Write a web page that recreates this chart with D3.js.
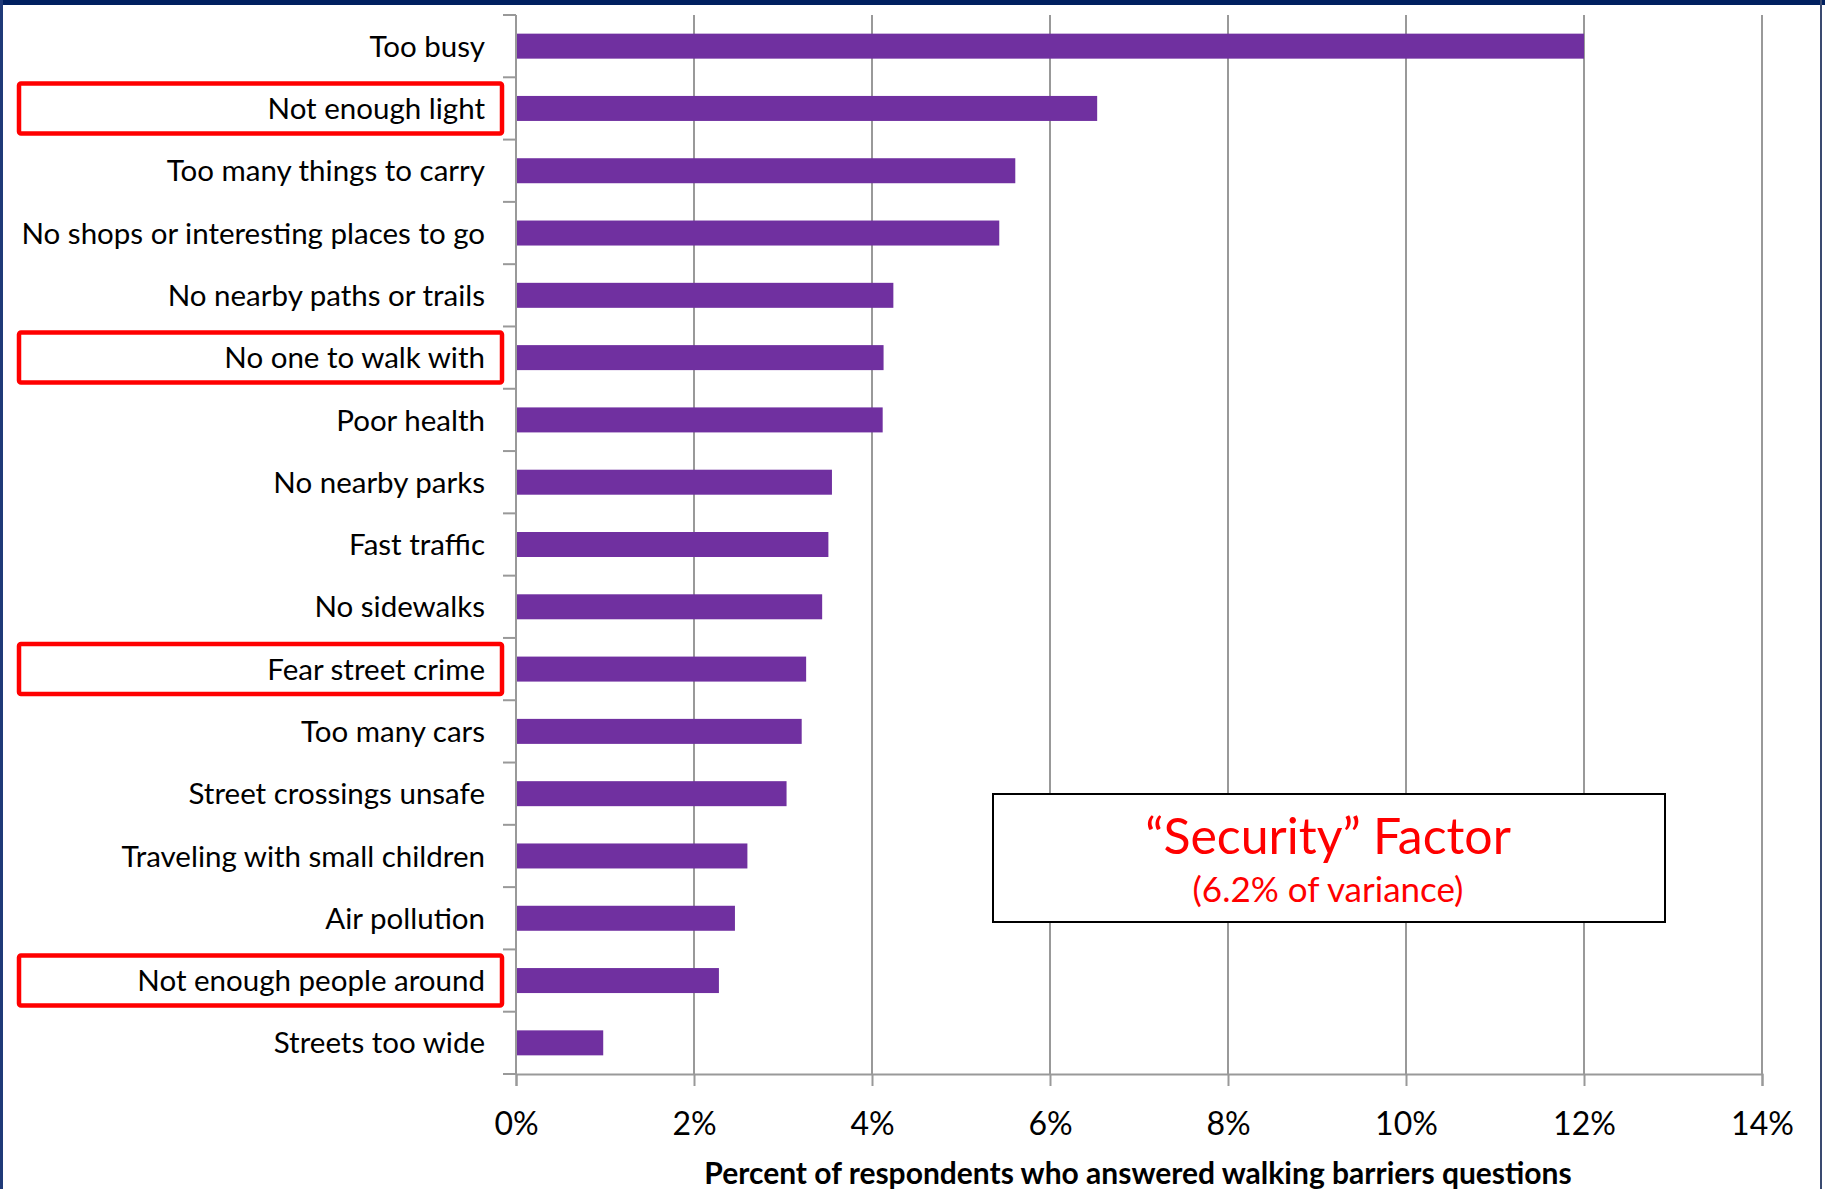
<!DOCTYPE html>
<html lang="en">
<head>
  <meta charset="UTF-8">
  <title>Walking barriers</title>
  <script src="https://d3js.org/d3.v7.min.js"></script>
  <style>
    body { margin: 0; background: #fff; }
    svg { display: block; font-family: Lato, "Open Sans", sans-serif; }
  </style>
</head>
<body>
<div id="chartID"></div>
<script>
  var categories = ["Too busy", "Not enough light", "Too many things to carry",
    "No shops or interesting places to go", "No nearby paths or trails",
    "No one to walk with", "Poor health", "No nearby parks", "Fast traffic",
    "No sidewalks", "Fear street crime", "Too many cars", "Street crossings unsafe",
    "Traveling with small children", "Air pollution", "Not enough people around",
    "Streets too wide"];
  var values = [12.0, 6.53, 5.61, 5.43, 4.24, 4.13, 4.12, 3.55, 3.51,
    3.44, 3.26, 3.21, 3.04, 2.60, 2.46, 2.28, 0.98];
  var highlighted = ["Not enough light", "No one to walk with",
    "Fear street crime", "Not enough people around"];
  var tickValues = [0, 2, 4, 6, 8, 10, 12, 14];
  var axisTitle = "Percent of respondents who answered walking barriers questions";
  var noteTitle = "\u201CSecurity\u201D Factor";
  var noteSub = "(6.2% of variance)";

  var W = 1825, H = 1189;
  var margin = {top: 15, right: 63, bottom: 115, left: 516};
  var width = W - margin.left - margin.right;
  var height = H - margin.top - margin.bottom;

  var svg = d3.select("#chartID").append("svg")
    .attr("width", W).attr("height", H);

  // frame
  svg.append("rect").attr("x", 0).attr("y", 0).attr("width", W).attr("height", 5).attr("fill", "#002060");
  svg.append("rect").attr("x", 0).attr("y", 0).attr("width", 3).attr("height", H).attr("fill", "#1f3a78");
  svg.append("rect").attr("x", 1820).attr("y", 0).attr("width", 2).attr("height", H).attr("fill", "#3a4a70");

  var g = svg.append("g")
    .attr("transform", "translate(" + margin.left + "," + margin.top + ")");

  var xScale = d3.scaleLinear().domain([0, 14]).range([0, width]);
  var yScale = d3.scaleBand().domain(categories).range([0, height]).paddingInner(0).paddingOuter(0);

  // gridlines
  g.selectAll(".grid")
    .data(tickValues.slice(1))
    .enter().append("line")
    .attr("x1", function(d) { return xScale(d); })
    .attr("x2", function(d) { return xScale(d); })
    .attr("y1", 0).attr("y2", height)
    .attr("stroke", "#999").attr("stroke-width", 2);

  // bars
  var barH = 25;
  g.selectAll(".bar")
    .data(categories)
    .enter().append("rect")
    .attr("class", "bar")
    .attr("x", xScale(0))
    .attr("y", function(d) { return yScale(d) + yScale.bandwidth() / 2 - barH / 2; })
    .attr("width", function(d, i) { return xScale(values[i]) - xScale(0); })
    .attr("height", barH)
    .attr("fill", "#7030A0");

  // x axis
  var xAxis = d3.axisBottom(xScale)
    .tickValues(tickValues)
    .tickSize(12)
    .tickPadding(26)
    .tickFormat(function(d) { return d + "%"; });
  var xg = g.append("g")
    .attr("transform", "translate(0," + height + ")")
    .call(xAxis);
  xg.select(".domain").attr("stroke", "#999").attr("stroke-width", 2);
  xg.selectAll(".tick line").attr("stroke", "#999").attr("stroke-width", 2);
  xg.selectAll(".tick text")
    .attr("font-family", "Lato, sans-serif")
    .attr("font-size", 32).attr("fill", "#000");

  // y axis: ticks at category boundaries
  var yg = g.append("g");
  yg.append("line").attr("x1", 0).attr("x2", 0).attr("y1", 0).attr("y2", height)
    .attr("stroke", "#999").attr("stroke-width", 2);
  yg.selectAll(".ytick")
    .data(categories.concat(["end"]))
    .enter().append("line")
    .attr("x1", -13).attr("x2", 0)
    .attr("y1", function(d, i) { return i * yScale.step(); })
    .attr("y2", function(d, i) { return i * yScale.step(); })
    .attr("stroke", "#999").attr("stroke-width", 2);

  // category labels
  g.selectAll(".ylabel")
    .data(categories)
    .enter().append("text")
    .attr("x", -31)
    .attr("y", function(d) { return yScale(d) + yScale.bandwidth() / 2; })
    .attr("dy", "0.36em")
    .attr("text-anchor", "end")
    .attr("font-size", 29.5)
    .attr("fill", "#000")
    .text(function(d) { return d; });

  // red highlight boxes
  g.selectAll(".hl")
    .data(highlighted)
    .enter().append("rect")
    .attr("x", -497)
    .attr("y", function(d) { return yScale(d) + yScale.bandwidth() / 2 - 25; })
    .attr("width", 483)
    .attr("height", 50)
    .attr("rx", 2)
    .attr("fill", "none")
    .attr("stroke", "#ff0000")
    .attr("stroke-width", 4.5);

  // axis title
  svg.append("text")
    .attr("x", 1138).attr("y", 1184)
    .attr("text-anchor", "middle")
    .attr("font-weight", "bold")
    .attr("font-size", 30)
    .attr("fill", "#000")
    .text(axisTitle);

  // note box
  svg.append("rect")
    .attr("x", 993).attr("y", 794).attr("width", 672).attr("height", 128)
    .attr("fill", "#fff").attr("stroke", "#000").attr("stroke-width", 2);
  svg.append("text")
    .attr("x", 1328).attr("y", 854)
    .attr("text-anchor", "middle")
    .attr("font-size", 50).attr("fill", "#ff0000")
    .text(noteTitle);
  svg.append("text")
    .attr("x", 1328).attr("y", 902)
    .attr("text-anchor", "middle")
    .attr("font-size", 35).attr("fill", "#ff0000")
    .text(noteSub);
</script>
</body>
</html>
